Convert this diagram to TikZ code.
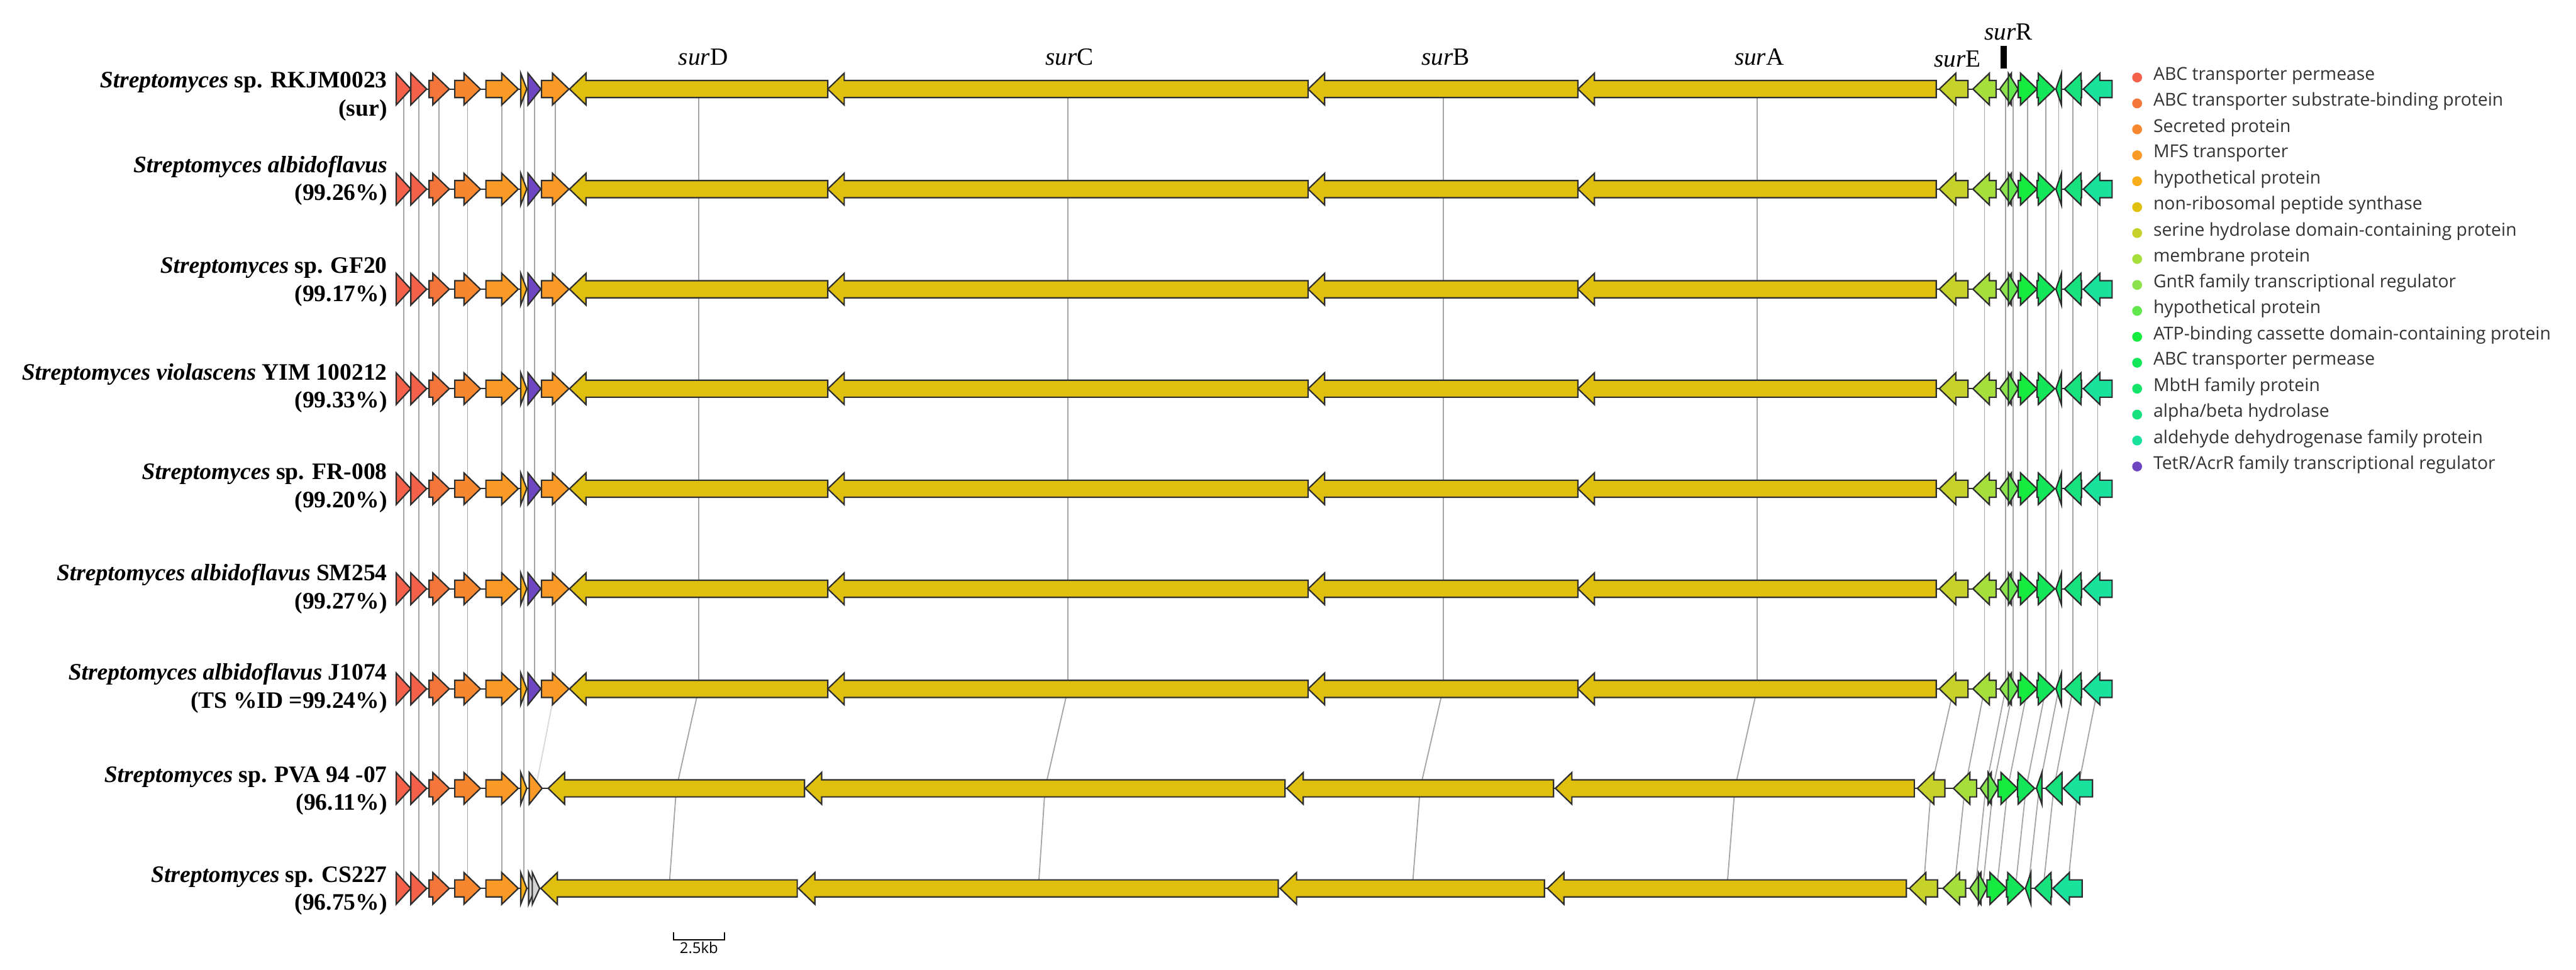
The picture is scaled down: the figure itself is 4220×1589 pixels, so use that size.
\documentclass[tikz,border=0pt]{standalone}
\usepackage{fontspec}
\setmainfont{Liberation Serif}
\newfontfamily\legfont{Open Sans}
\usetikzlibrary{positioning}
\pgfdeclarelayer{bg}
\pgfsetlayers{bg,main}

\definecolor{cPermA}{HTML}{F4604A}
\definecolor{cSubs}{HTML}{F5763A}
\definecolor{cSecr}{HTML}{F7872F}
\definecolor{cMFS}{HTML}{F99A27}
\definecolor{cHypA}{HTML}{F8AE1A}
\definecolor{cNRPS}{HTML}{E0C00E}
\definecolor{cSer}{HTML}{C6D22A}
\definecolor{cMem}{HTML}{A6DE3C}
\definecolor{cGntR}{HTML}{8CE24C}
\definecolor{cHypB}{HTML}{62E84C}
\definecolor{cATP}{HTML}{16EC40}
\definecolor{cPermB}{HTML}{14E65A}
\definecolor{cMbtH}{HTML}{14E468}
\definecolor{cAB}{HTML}{18E27E}
\definecolor{cAld}{HTML}{18E29C}
\definecolor{cTetR}{HTML}{6E46C2}
\definecolor{cGrey}{HTML}{D4D4D4}
\definecolor{edge}{HTML}{2E2E2E}
\definecolor{linkgrey}{HTML}{A6A6A6}

% gene arrow: name, tail x, tip x, row y, colour
\newcommand{\gene}[5]{%
  \pgfmathsetmacro{\gnLen}{abs(#3-#2)}%
  \pgfmathsetmacro{\gnDir}{sign(#3-#2)}%
  \pgfmathsetmacro{\gnBase}{#3-\gnDir*27}%
  \ifdim\gnLen pt>27pt
    \draw[genebox,fill=#5] (#2,#4-14) -- (\gnBase,#4-14) -- (\gnBase,#4-26)
      -- (#3,#4) -- (\gnBase,#4+26) -- (\gnBase,#4+14) -- (#2,#4+14) -- cycle;
  \else
    \draw[genebox,fill=#5] (#2,#4-26) -- (#3,#4) -- (#2,#4+26) -- cycle;
  \fi
  \coordinate (#1) at ({(#2+#3)/2},#4);%
}

% genes shared by all nine clusters
\newcommand{\leftgenes}[2]{%
  \gene{r#1g1}{649}{673}{#2}{cPermA}
  \gene{r#1g2}{673}{699}{#2}{cPermA}
  \gene{r#1g3}{703}{736}{#2}{cSubs}
  \gene{r#1g4}{745}{787}{#2}{cSecr}
  \gene{r#1g5}{796}{849}{#2}{cMFS}
  \gene{r#1g6}{853}{863}{#2}{cHypA}
}

% full sur cluster (rows 1--7)
\newcommand{\surrow}[2]{%
  \draw[backbone] (649,#2) -- (3460,#2);
  \leftgenes{#1}{#2}
  \gene{r#1g7}{865}{886}{#2}{cTetR}
  \gene{r#1g8}{887}{932}{#2}{cMFS}
  \gene{r#1surD}{1356}{933}{#2}{cNRPS}
  \gene{r#1surC}{2143}{1356}{#2}{cNRPS}
  \gene{r#1surB}{2585}{2143}{#2}{cNRPS}
  \gene{r#1surA}{3172}{2585}{#2}{cNRPS}
  \gene{r#1surE}{3224}{3177}{#2}{cSer}
  \gene{r#1mem}{3270}{3232}{#2}{cMem}
  \gene{r#1gntR}{3295}{3276}{#2}{cGntR}
  \gene{r#1hyp}{3290}{3306}{#2}{cHypB}
  \gene{r#1atp}{3306}{3337}{#2}{cATP}
  \gene{r#1perm}{3337}{3366}{#2}{cPermB}
  \gene{r#1mbth}{3377}{3368}{#2}{cMbtH}
  \gene{r#1ab}{3410}{3382}{#2}{cAB}
  \gene{r#1ald}{3460}{3413}{#2}{cAld}
}

\begin{document}
\begin{tikzpicture}[x=0.01cm, y=-0.01cm,
  genebox/.style={draw=edge, line width=0.65pt, line join=miter},
  backbone/.style={draw=edge, line width=0.6pt},
  link/.style={draw=linkgrey, line width=0.55pt},
  faint/.style={draw=black!15},
  strain/.style={anchor=east, align=right, font=\fontsize{11}{13}\selectfont\bfseries,
    inner sep=0pt},
  genename/.style={font=\fontsize{11.5}{13}\selectfont, inner sep=0pt},
  legtext/.style={anchor=west, font=\legfont\fontsize{8.3}{10}\selectfont,
    text=black!80, inner sep=0pt},
  legdot/.style={circle, inner sep=0pt, minimum size=4.6pt}]

\useasboundingbox (0,0) rectangle (4220,1589);

% Clusters 1--7: identical layout
\surrow{1}{146}
\surrow{2}{310}
\surrow{3}{474}
\surrow{4}{637}
\surrow{5}{801}
\surrow{6}{965}
\surrow{7}{1129}

% Cluster 8 -- PVA 94-07, no TetR regulator
\draw[backbone] (649,1292) -- (3428,1292);
\leftgenes{8}{1292}
\gene{r8g8}{867}{888}{1292}{cMFS}
\gene{r8surD}{1318}{898}{1292}{cNRPS}
\gene{r8surC}{2105}{1319}{1292}{cNRPS}
\gene{r8surB}{2545}{2108}{1292}{cNRPS}
\gene{r8surA}{3136}{2548}{1292}{cNRPS}
\gene{r8surE}{3186}{3141}{1292}{cSer}
\gene{r8mem}{3238}{3200}{1292}{cMem}
\gene{r8gntR}{3262}{3244}{1292}{cGntR}
\gene{r8hyp}{3257}{3273}{1292}{cHypB}
\gene{r8atp}{3273}{3305}{1292}{cATP}
\gene{r8perm}{3305}{3333}{1292}{cPermB}
\gene{r8mbth}{3345}{3336}{1292}{cMbtH}
\gene{r8ab}{3378}{3351}{1292}{cAB}
\gene{r8ald}{3428}{3380}{1292}{cAld}

% Cluster 9 -- CS227, two unmatched small genes
\draw[backbone] (649,1456) -- (3411,1456);
\leftgenes{9}{1456}
\gene{r9x1}{866}{877}{1456}{cGrey}
\gene{r9x2}{872}{884}{1456}{cGrey}
\gene{r9surD}{1306}{886}{1456}{cNRPS}
\gene{r9surC}{2094}{1308}{1456}{cNRPS}
\gene{r9surB}{2530}{2097}{1456}{cNRPS}
\gene{r9surA}{3123}{2535}{1456}{cNRPS}
\gene{r9surE}{3174}{3128}{1456}{cSer}
\gene{r9mem}{3220}{3183}{1456}{cMem}
\gene{r9gntR}{3245}{3227}{1456}{cGntR}
\gene{r9hyp}{3241}{3255}{1456}{cHypB}
\gene{r9atp}{3255}{3287}{1456}{cATP}
\gene{r9perm}{3287}{3316}{1456}{cPermB}
\gene{r9mbth}{3327}{3318}{1456}{cMbtH}
\gene{r9ab}{3361}{3333}{1456}{cAB}
\gene{r9ald}{3411}{3363}{1456}{cAld}

% Homology links, behind the genes
\begin{pgfonlayer}{bg}
\foreach \r in {1,...,6} {
  \pgfmathtruncatemacro{\s}{\r+1}
  \foreach \g in {g1,g2,g3,g4,g5,g6,g7,g8,surD,surC,surB,surA,surE,mem,gntR,hyp,atp,perm,mbth,ab,ald}
    \draw[link] (r\r\g) -- (r\s\g);
}
\foreach \g in {g1,g2,g3,g4,g5,g6,surD,surC,surB,surA,surE,mem,gntR,hyp,atp,perm,mbth,ab,ald}
  \draw[link] (r7\g) -- (r8\g);
\draw[link, faint] (r7g8) -- (r8g8);
\foreach \g in {g1,g2,g3,g4,g5,g6,surD,surC,surB,surA,surE,mem,gntR,hyp,atp,perm,mbth,ab,ald}
  \draw[link] (r8\g) -- (r9\g);
\end{pgfonlayer}

% Strain labels
\node[strain] (s1) at (635,158) {\textit{Streptomyces} sp. RKJM0023\\(sur)};
\node[strain] (s2) at (635,296) {\textit{Streptomyces albidoflavus}\\(99.26\%)};
\node[strain] (s3) at (635,462) {\textit{Streptomyces} sp. GF20\\(99.17\%)};
\node[strain] (s4) at (635,636) {\textit{Streptomyces violascens} YIM 100212\\(99.33\%)};
\node[strain] (s5) at (635,800) {\textit{Streptomyces} sp. FR-008\\(99.20\%)};
\node[strain] (s6) at (635,965) {\textit{Streptomyces albidoflavus} SM254\\(99.27\%)};
\node[strain] (s7) at (635,1128) {\textit{Streptomyces albidoflavus} J1074\\(TS \%ID =99.24\%)};
\node[strain] (s8) at (635,1296) {\textit{Streptomyces} sp. PVA 94 -07\\(96.11\%)};
\node[strain] (s9) at (635,1460) {\textit{Streptomyces} sp. CS227\\(96.75\%)};

% Gene names above the reference cluster
\node[genename] (nD) at (1152,94) {\textit{sur}D};
\node[genename] (nC) at (1752,94) {\textit{sur}C};
\node[genename] (nB) at (2368,94) {\textit{sur}B};
\node[genename] (nA) at (2882,94) {\textit{sur}A};
\node[genename] (nE) at (3207,97) {\textit{sur}E};
\node[genename] (nR) at (3290,52) {\textit{sur}R};
\fill (3277,75) rectangle (3288,112);

% Scale bar
\draw[line width=0.6pt] (1103,1528) -- (1103,1540) -- (1187,1540) -- (1187,1528);
\node[font=\legfont\fontsize{7}{8}\selectfont, inner sep=0pt] (kb) at (1145,1553) {2.5kb};

% Legend
\foreach \col/\txt [count=\i from 0] in {
  cPermA/{ABC transporter permease},
  cSubs/{ABC transporter substrate-binding protein},
  cSecr/{Secreted protein},
  cMFS/{MFS transporter},
  cHypA/{hypothetical protein},
  cNRPS/{non-ribosomal peptide synthase},
  cSer/{serine hydrolase domain-containing protein},
  cMem/{membrane protein},
  cGntR/{GntR family transcriptional regulator},
  cHypB/{hypothetical protein},
  cATP/{ATP-binding cassette domain-containing protein},
  cPermB/{ABC transporter permease},
  cMbtH/{MbtH family protein},
  cAB/{alpha/beta hydrolase},
  cAld/{aldehyde dehydrogenase family protein},
  cTetR/{TetR/AcrR family transcriptional regulator}} {
  \node[legdot, fill=\col] (dot\i) at (3501,127+42.5*\i) {};
  \node[legtext] (leg\i) at (3527,124+42.5*\i) {\txt};
}

\end{tikzpicture}
\end{document}
